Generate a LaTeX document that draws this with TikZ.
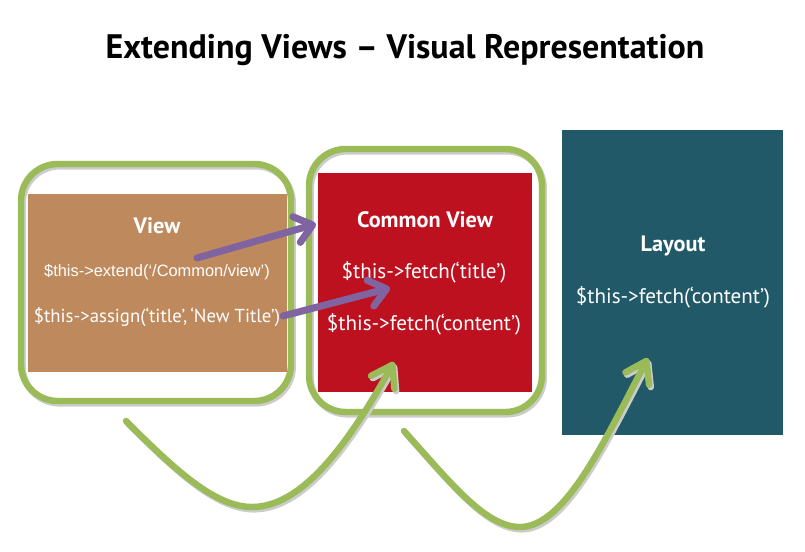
\documentclass[tikz,border=0pt]{standalone}
\usepackage{fontspec}
\setmainfont{PT Sans}
\newfontfamily\arialfont{Liberation Sans}
\usetikzlibrary{arrows.meta,positioning,calc}

\definecolor{frmgreen}{HTML}{9BBB59}
\definecolor{viewbrown}{HTML}{BE8A5D}
\definecolor{commonred}{HTML}{BE1120}
\definecolor{layoutteal}{HTML}{215968}
\definecolor{arrpurple}{HTML}{8064A2}

\begin{document}
\begin{tikzpicture}[x=0.03cm,y=-0.03cm,
  box/.style={rectangle,inner sep=0pt,fill=#1},
  frm/.style={rectangle,inner sep=0pt,draw=frmgreen,line width=5.5pt,rounded corners=1.1cm,
    preaction={draw=black!20,line width=5.5pt,transform canvas={shift={(1.5pt,-2pt)}}}},
  hd/.style={text=white,font=\bfseries\fontsize{19}{22}\selectfont},
  code/.style={text=white,font=\fontsize{18}{21}\selectfont},
  arg/.style={draw=frmgreen,line width=5.5pt,line cap=round,
    -{Straight Barb[length=6mm,width=8mm,round]},
    preaction={draw=black!20,line width=5.5pt,transform canvas={shift={(1.5pt,-2pt)}}}},
  arp/.style={draw=arrpurple,line width=6pt,line cap=round,
    -{Straight Barb[length=5mm,width=8mm,round]}}]

  \useasboundingbox (0,0) rectangle (805,551);

  % title
  \node[font=\bfseries\fontsize{29}{33}\selectfont] (title) at (405,50) {Extending Views – Visual Representation};

  % the three views
  \node[frm,minimum width=8.1cm,minimum height=7.11cm] (viewfrm) at (156,282.5) {};
  \node[box=viewbrown,minimum width=7.77cm,minimum height=5.34cm] (view) at (157.5,283) {};
  \node[frm,minimum width=6.99cm,minimum height=7.89cm] (commonfrm) at (425.5,280.5) {};
  \node[box=commonred,minimum width=6.42cm,minimum height=6.57cm] (common) at (425,282.5) {};
  \node[box=layoutteal,minimum width=6.63cm,minimum height=9.15cm] (layout) at (672.5,282.5) {};

  % labels
  \node[hd] (viewhd) at (157,226) {View};
  \node[text=white,font=\arialfont\fontsize{14}{17}\selectfont] (extend) at (157,272) {\$this->extend(‘/Common/view’)};
  \node[code,font=\fontsize{16}{19}\selectfont] (assign) at (157,317) {\$this->assign(‘title’,\,‘New Title’)};
  \node[hd] (commonhd) at (425,220) {Common View};
  \node[code] (ftitle) at (424,272) {\$this->fetch(‘title’)};
  \node[code] (fcontent) at (424,324) {\$this->fetch(‘content’)};
  \node[hd] (layouthd) at (673,246) {Layout};
  \node[code] (lcontent) at (673,297) {\$this->fetch(‘content’)};

  % arrow ends
  \coordinate (g1s) at (126,421);
  \coordinate (g1m) at (252,507);
  \coordinate (g1t) at (394,362);
  \coordinate (g2s) at (404,431);
  \coordinate (g2m) at (520,527);
  \coordinate (g2t) at (648,358);
  \coordinate (p1s) at (197,258);
  \coordinate (p1t) at (316,224);
  \coordinate (p2s) at (283,316);
  \coordinate (p2t) at (390,288);

  \draw[arg] (g1s) .. controls (175,470) and (215,507) .. (g1m)
    .. controls (300,507) and (345,450) .. (g1t);
  \draw[arg] (g2s) .. controls (450,482) and (485,527) .. (g2m)
    .. controls (565,527) and (605,440) .. (g2t);

  \draw[arp] (p1s) -- (p1t);
  \draw[arp] (p2s) -- (p2t);
\end{tikzpicture}
\end{document}
